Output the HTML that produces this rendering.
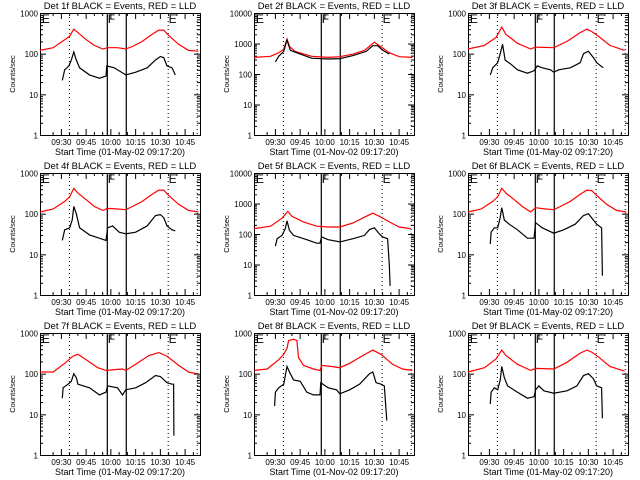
<!DOCTYPE html>
<html><head><meta charset="utf-8"><style>
html,body{margin:0;padding:0;background:#fff;}
svg{display:block;font-family:"Liberation Sans",sans-serif;}
</style></head><body>
<svg id="c" width="640" height="480" viewBox="0 0 640 480"></svg>
<script>
const panelTitles=["Det 1f","Det 2f","Det 3f","Det 4f","Det 5f","Det 6f","Det 7f","Det 8f","Det 9f"];
const panelDates=["01-May-02","01-Nov-02","01-May-02","01-May-02","01-Nov-02","01-May-02","01-May-02","01-Nov-02","01-May-02"];
const panelDecades=[3,4,3,3,4,3,3,3,3];
const timeTicks=[12.67,27.67,42.67,57.67,72.67,87.67];
const timeTickLabels=["09:30","09:45","10:00","10:15","10:30","10:45"];
const dottedLines=[17.5,77.4,95];
const solidLines=[40.5,52];
const red1=[[0,120],[8,140],[15,220],[18,270],[20.5,400],[23,330],[28,220],[33,160],[38,130],[41,140],[47,140],[52,130],[56,150],[62,200],[68,300],[72,380],[75,380],[78,280],[84,170],[90,120],[96,115]];
const black1=[[13.5,22],[15,40],[17.5,50],[19,70],[20.5,110],[22,70],[24,45],[30,30],[36,25],[40,28],[40.5,50],[45,45],[52,30],[58,35],[65,45],[70,70],[73,85],[75,80],[77,50],[80,45],[82,30]];
const red2=[[0,350],[10,380],[15,500],[18,650],[20,1400],[21.5,800],[25,550],[35,380],[45,350],[52,370],[60,450],[67,600],[71,900],[73,1100],[76,850],[82,500],[88,370],[96,350]];
const black2=[[13,250],[15,380],[18,550],[20,1300],[22,600],[28,450],[35,330],[45,310],[52,320],[60,400],[68,550],[72,850],[75,850],[78,600],[82,450]];
const red3=[[0,130],[10,160],[17,250],[20.5,450],[23,300],[30,180],[38,130],[41,145],[52,140],[60,200],[68,330],[72,400],[75,350],[79,270],[86,160],[95,120]];
const black3=[[13.5,30],[15,45],[18,60],[19.5,100],[21,170],[22.5,70],[26,55],[30,40],[36,33],[40,38],[42,50],[45,45],[50,40],[52,35],[55,40],[62,45],[68,60],[70,100],[73,115],[76,80],[78,60],[82,45]];
const red4=[[0,110],[8,130],[15,200],[18,260],[20.5,420],[23,320],[28,220],[33,150],[38,120],[41,135],[47,130],[52,125],[56,150],[62,200],[68,300],[72,380],[75,380],[78,280],[84,170],[90,120],[96,110]];
const black4=[[13.5,22],[15,40],[18,45],[19.5,70],[20.5,150],[22,100],[24,45],[30,30],[36,25],[40,22],[41,45],[44,50],[48,35],[52,32],[58,35],[65,50],[70,90],[73,95],[75,80],[77,50],[80,40],[82,38]];
const red5=[[0,150],[10,180],[17,330],[20.5,550],[23,380],[30,250],[38,180],[45,170],[52,170],[60,230],[68,380],[72,480],[76,380],[82,250],[88,170],[95,150]];
const black5=[[13,40],[14,70],[17,90],[19,150],[20,270],[21.5,130],[24,90],[32,65],[38,50],[40,50],[41,80],[45,65],[52,55],[60,70],[67,90],[70,140],[73,160],[76,100],[78,80],[81,70],[82,10],[82.5,2]];
const red6=[[0,110],[8,130],[15,200],[18,260],[20.5,420],[23,320],[28,220],[33,150],[38,110],[41,140],[47,130],[52,125],[56,150],[62,200],[68,300],[72,380],[75,370],[78,280],[84,170],[90,120],[96,110]];
const black6=[[13.5,18],[14,35],[16,45],[18,45],[19.5,80],[20.5,140],[22,70],[25,55],[30,40],[36,25],[40,25],[41,60],[45,45],[52,33],[58,40],[65,55],[70,90],[73,100],[76,70],[78,55],[81,45],[81.5,3]];
const red7=[[0,110],[8,110],[15,180],[20,270],[23,300],[28,220],[35,140],[40,120],[50,130],[52,120],[58,170],[66,280],[72,330],[77,270],[84,160],[90,110],[95,100]];
const black7=[[13.5,25],[14,45],[17,55],[19,65],[20.5,100],[22,80],[23,55],[30,45],[36,30],[40,35],[41,50],[47,45],[50,30],[52,40],[58,45],[64,60],[70,90],[73,85],[77,60],[80,55],[81,55],[81.2,3]];
const red8=[[0,120],[8,130],[15,220],[18,300],[20,420],[21,650],[24,700],[26,650],[27,250],[30,160],[36,130],[40,120],[41,160],[47,150],[52,140],[58,180],[66,280],[72,380],[77,300],[84,170],[90,130],[96,120]];
const black8=[[12.5,16],[13,35],[15,45],[18,55],[20,150],[22,100],[24,70],[28,65],[32,35],[36,30],[40,30],[40.5,60],[45,45],[50,40],[52,32],[58,40],[64,55],[70,100],[72,110],[74,60],[77,55],[79,50],[80.5,7]];
const red9=[[0,110],[10,140],[17,230],[20.5,380],[23,280],[30,170],[38,120],[41,135],[52,130],[60,190],[68,320],[72,380],[75,340],[79,260],[86,150],[95,115]];
const black9=[[13.5,18],[14,35],[16,45],[18,40],[19.5,70],[20.5,150],[22,80],[24,50],[30,35],[36,25],[40,27],[41,40],[43,50],[46,38],[52,33],[60,38],[66,50],[70,90],[73,100],[76,75],[78,50],[81,45],[81.5,8]];
const redSeries=[red1,red2,red3,red4,red5,red6,red7,red8,red9];
const blackSeries=[black1,black2,black3,black4,black5,black6,black7,black8,black9];

const NS="http://www.w3.org/2000/svg";
const svg=document.getElementById('c');
function mk(tag,attrs,parent){const e=document.createElementNS(NS,tag);for(const k in attrs)e.setAttribute(k,attrs[k]);(parent||svg).appendChild(e);return e;}
const colX=[40,254,468], rowY=[13,173,333], W=160, H=122, TMAX=97;
for(let p=0;p<9;p++){
  const x0=colX[p%3], y0=rowY[Math.floor(p/3)], dec=panelDecades[p];
  const g=mk('g',{});
  
  
  const X=t=>x0+t/TMAX*W;
  const Y=v=>y0+H-Math.log10(Math.max(v,1))/dec*H;
  const tt=mk('text',{x:x0+W/2,y:y0-4,'font-size':9.5,'text-anchor':'middle',fill:'#000'},g);
  tt.textContent=panelTitles[p]+" BLACK = Events, RED = LLD";
  
  
  const bx=mk('rect',{x:x0+.5,y:y0+.5,width:W,height:H,fill:'none',stroke:'#000','stroke-width':1},g);
  
  
  for(let d=0;d<=dec;d++){
    const yy=Y(Math.pow(10,d))+.5;
    mk('line',{x1:x0,x2:x0+6,y1:yy,y2:yy,stroke:'#000'},g);
    mk('line',{x1:x0+W-6,x2:x0+W,y1:yy,y2:yy,stroke:'#000'},g);
    const yl=mk('text',{x:x0-2,y:yy+3,'font-size':8,'text-anchor':'end'},g);
    yl.textContent=String(Math.pow(10,d));
    
    
    if(d<dec)for(let m=2;m<10;m++){const ym=Y(m*Math.pow(10,d))+.5;
      mk('line',{x1:x0,x2:x0+3,y1:ym,y2:ym,stroke:'#000'},g);
      mk('line',{x1:x0+W-3,x2:x0+W,y1:ym,y2:ym,stroke:'#000'},g);}
  }
  const ya=mk('text',{x:0,y:0,'font-size':7.5,'text-anchor':'middle',transform:`translate(${x0-25},${y0+H/2}) rotate(-90)`},g);
  ya.textContent="Counts/sec";
  
  
  timeTicks.forEach((t,i)=>{const xx=X(t)+.5;
    mk('line',{x1:xx,x2:xx,y1:y0+H,y2:y0+H-6,stroke:'#000'},g);
    mk('line',{x1:xx,x2:xx,y1:y0,y2:y0+6,stroke:'#000'},g);
    const xl=mk('text',{x:xx,y:y0+H+10,'font-size':8,'text-anchor':'middle'},g);
    xl.textContent=timeTickLabels[i];
    
    
    for(let k=1;k<3;k++){const tm=t+k*5;if(tm<TMAX){const xm=X(tm)+.5;
      mk('line',{x1:xm,x2:xm,y1:y0+H,y2:y0+H-3,stroke:'#000'},g);
      mk('line',{x1:xm,x2:xm,y1:y0,y2:y0+3,stroke:'#000'},g);}}
    if(i==0){const xm=X(t-5)+.5;mk('line',{x1:xm,x2:xm,y1:y0+H,y2:y0+H-3,stroke:'#000'},g);mk('line',{x1:xm,x2:xm,y1:y0,y2:y0+3,stroke:'#000'},g);}
  });
  const xa=mk('text',{x:x0+W/2,y:y0+H+20,'font-size':9,'text-anchor':'middle'},g);
  xa.textContent="Start Time ("+panelDates[p]+" 09:17:20)";
  
  
  dottedLines.forEach(t=>{const l=mk('line',{x1:X(t)+.5,x2:X(t)+.5,y1:y0,y2:y0+H,stroke:'#000','stroke-dasharray':'1,3'},g);
    });
  solidLines.forEach(t=>{const l=mk('line',{x1:X(t)+.5,x2:X(t)+.5,y1:y0,y2:y0+H,stroke:'#000','stroke-width':1.2},g);
    });
  [[0.5,"E"],[solidLines[0],"F"],[dottedLines[1],"E"]].forEach(([t,s])=>{const e=mk('text',{x:X(t)+1,y:y0+10,'font-size':12},g);e.textContent=s;
    });
  const path=(arr)=>arr.map((d,i)=>(i?'L':'M')+X(d[0]).toFixed(1)+','+Y(d[1]).toFixed(1)).join('');
  const r=mk('path',{d:path(redSeries[p]),fill:'none',stroke:'#ff0000','stroke-width':1.2},g);
  
  
  const b=mk('path',{d:path(blackSeries[p]),fill:'none',stroke:'#000','stroke-width':1.2},g);
  
  
}
</script>
</body></html>
